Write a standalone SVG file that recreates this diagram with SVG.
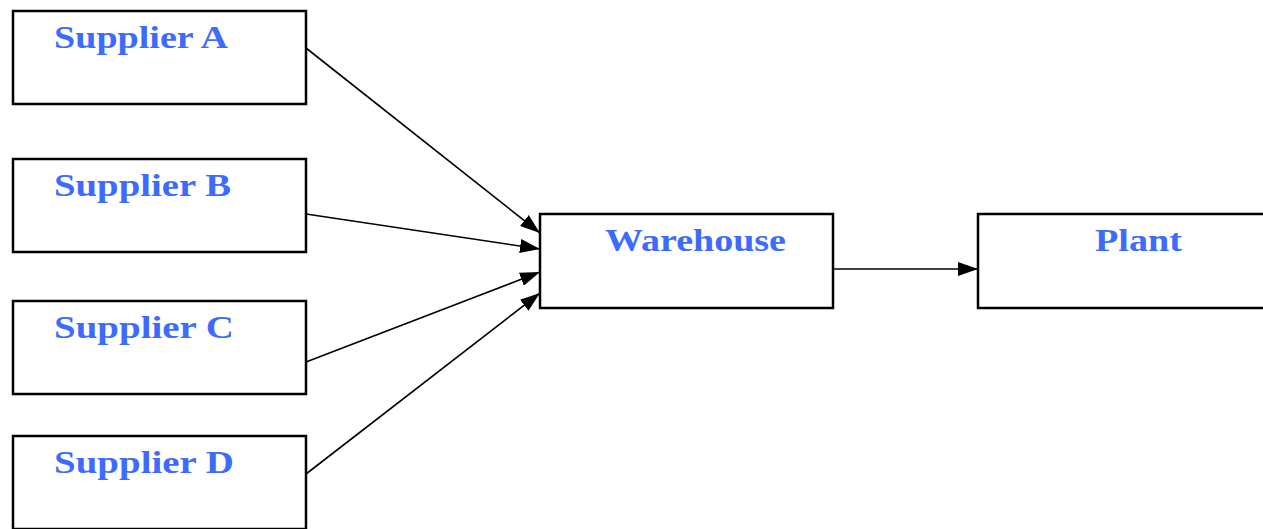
<svg xmlns="http://www.w3.org/2000/svg" width="1263" height="529" viewBox="0 0 1263 529">
<style>
.box{fill:#fff;stroke:#000;stroke-width:2.5}
.lbl{font-family:"Liberation Serif","DejaVu Serif",serif;font-weight:bold;font-size:31px;fill:#3d6bff}
.edge{stroke:#000;stroke-width:1.6;fill:none;marker-end:url(#ah)}
</style>
<defs>
<marker id="ah" viewBox="0 0 20 14" refX="20" refY="7" markerWidth="20" markerHeight="14" markerUnits="userSpaceOnUse" orient="auto">
<path d="M0,0 L20,7 L0,14 Z" fill="#000"/>
</marker>
</defs>
<rect width="1263" height="529" fill="#fff"/>
<g id="supplierA"><rect class="box" x="13" y="11" width="293" height="93"/><text class="lbl" x="54" y="48" textLength="174" lengthAdjust="spacingAndGlyphs">Supplier A</text></g>
<g id="supplierB"><rect class="box" x="13" y="159" width="293" height="93"/><text class="lbl" x="54" y="196" textLength="177" lengthAdjust="spacingAndGlyphs">Supplier B</text></g>
<g id="supplierC"><rect class="box" x="13" y="301" width="293" height="93"/><text class="lbl" x="54" y="338" textLength="180" lengthAdjust="spacingAndGlyphs">Supplier C</text></g>
<g id="supplierD"><rect class="box" x="13" y="436" width="293" height="93"/><text class="lbl" x="54" y="473" textLength="180" lengthAdjust="spacingAndGlyphs">Supplier D</text></g>
<g id="warehouse"><rect class="box" x="540" y="214" width="293" height="94"/><text class="lbl" x="605" y="251" textLength="181" lengthAdjust="spacingAndGlyphs">Warehouse</text></g>
<g id="plant"><rect class="box" x="978" y="214" width="300" height="94"/><text class="lbl" x="1095" y="251" textLength="87" lengthAdjust="spacingAndGlyphs">Plant</text></g>
<g id="connectors">
<line class="edge" x1="306" y1="48" x2="540" y2="233"/>
<line class="edge" x1="306" y1="214" x2="540" y2="249"/>
<line class="edge" x1="306" y1="362" x2="540" y2="272"/>
<line class="edge" x1="306" y1="474" x2="540" y2="293"/>
<line class="edge" x1="833" y1="269" x2="978" y2="269"/>
</g>
</svg>
